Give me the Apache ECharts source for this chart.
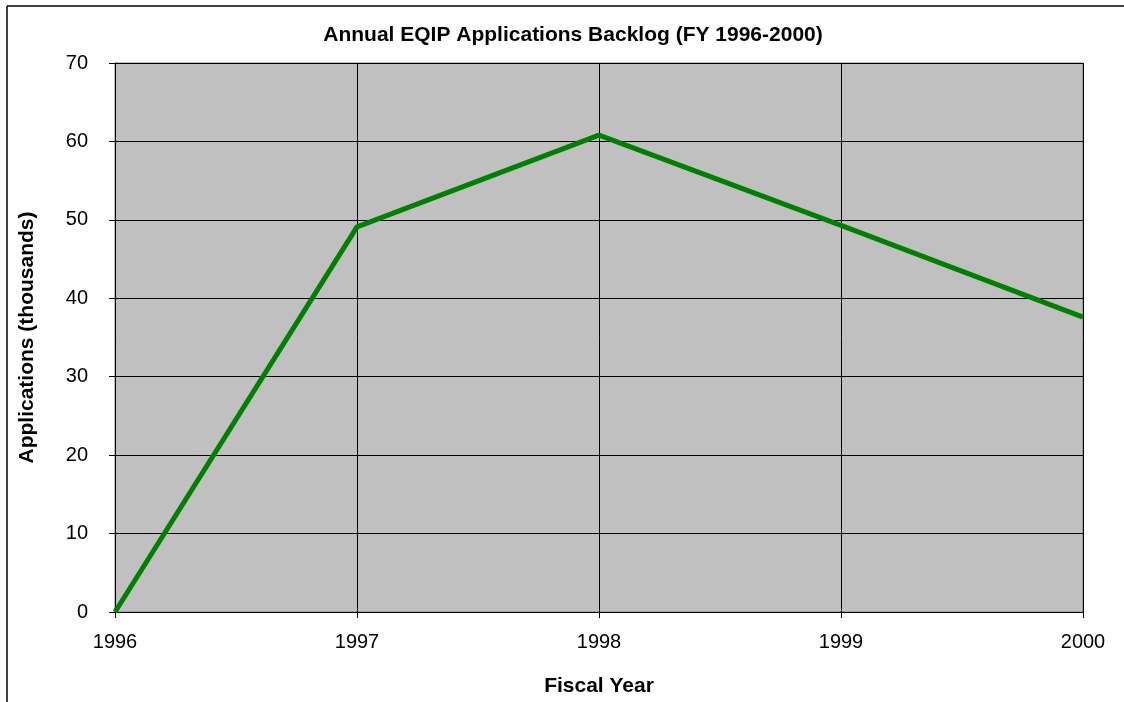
<!DOCTYPE html>
<html>
<head>
<meta charset="utf-8">
<script src="https://cdn.jsdelivr.net/npm/echarts@6/dist/echarts.min.js"></script>
<style>
  html, body { margin: 0; padding: 0; background: #fff; }
  #chart { width: 1124px; height: 702px; }
</style>
</head>
<body>
<div id="chart"></div>
<script>
const years = ['1996', '1997', '1998', '1999', '2000'];
const backlog = [0, 49.1, 60.8, 49.3, 37.6];

const chart = echarts.init(document.getElementById('chart'));
const font = 'Liberation Sans, Arial, sans-serif';

const option = {
    backgroundColor: '#fff',
    animation: false,
    title: {
        text: 'Annual EQIP Applications Backlog (FY 1996-2000)',
        left: 568,
        textAlign: 'center',
        top: 20,
        textStyle: { fontFamily: font, fontSize: 21, fontWeight: 'bold', color: '#000' }
    },
    graphic: [
        // outer frame, only top and left edges show in the crop
        { type: 'line', shape: { x1: 7, y1: 6, x2: 1124, y2: 6 }, style: { stroke: '#000', lineWidth: 1.5 } },
        { type: 'line', shape: { x1: 7, y1: 6, x2: 7, y2: 702 }, style: { stroke: '#000', lineWidth: 1.5 } }
    ],
    grid: {
        left: 115, right: 41, top: 63, bottom: 87,
        show: true,
        backgroundColor: '#c0c0c0',
        borderColor: '#808080',
        borderWidth: 1
    },
    xAxis: {
        type: 'category',
        data: years,
        boundaryGap: false,
        name: 'Fiscal Year',
        nameLocation: 'middle',
        nameGap: 64,
        nameTextStyle: { fontFamily: font, fontSize: 21, fontWeight: 'bold', color: '#000' },
        axisLine: { lineStyle: { color: '#000', width: 1 } },
        axisTick: { show: true, length: 6, lineStyle: { color: '#000' } },
        axisLabel: { fontFamily: font, fontSize: 20, color: '#000', margin: 20 },
        splitLine: { show: true, lineStyle: { color: '#000', width: 1 } }
    },
    yAxis: {
        type: 'value',
        min: 0, max: 70, interval: 10,
        name: 'Applications (thousands)',
        nameLocation: 'middle',
        nameGap: 77,
        nameTextStyle: { fontFamily: font, fontSize: 21, fontWeight: 'bold', color: '#000' },
        axisLine: { show: true, lineStyle: { color: '#000', width: 1 } },
        axisTick: { show: true, length: 6, lineStyle: { color: '#000' } },
        axisLabel: { fontFamily: font, fontSize: 20, color: '#000', margin: 27 },
        splitLine: { show: true, lineStyle: { color: '#000', width: 1 } }
    },
    series: [{
        type: 'line',
        data: backlog,
        symbol: 'none',
        lineStyle: { color: '#008000', width: 5 },
        itemStyle: { color: '#008000' }
    }]
};

chart.setOption(option);
</script>
</body>
</html>
